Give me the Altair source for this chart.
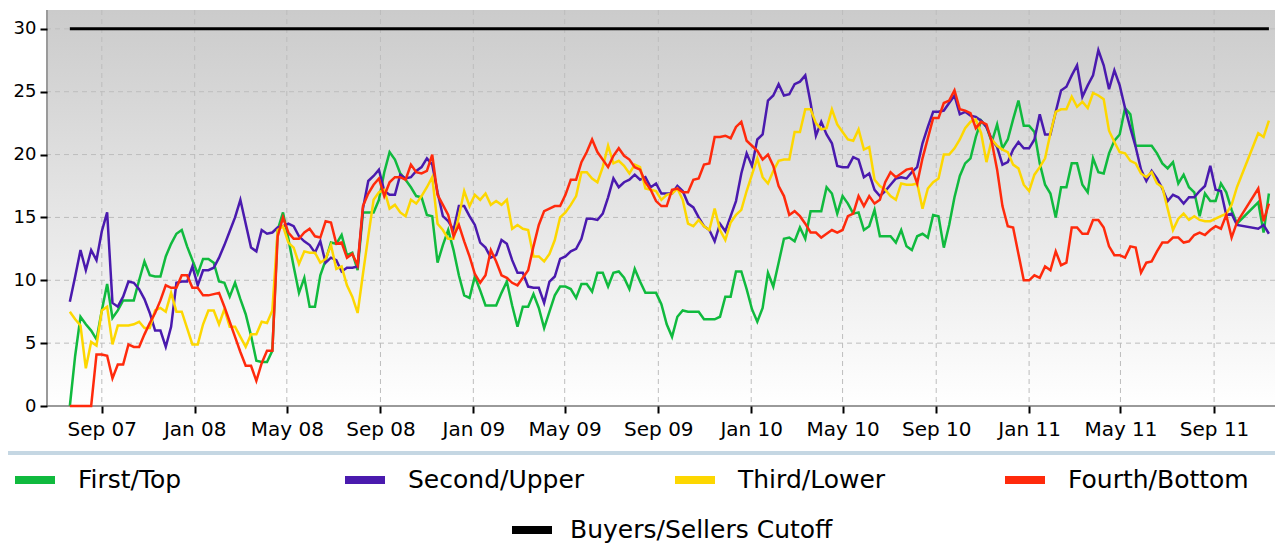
import altair as alt
import pandas as pd

# ---- data (weekly observations; three weeks missing near the end) ----
START = "2007-07-21"
WEEK_INDEX = list(range(0, 220)) + [223, 224, 225]

SERIES = ["First/Top", "Second/Upper", "Third/Lower", "Fourth/Bottom"]
COLORS = ["#10ba3e", "#4a1aae", "#fdd700", "#ff2a0c"]
CUTOFF_LABEL = "Buyers/Sellers Cutoff"
CUTOFF_VALUE = 30

FIRST = [
    0, 4.0, 7.1, 6.5, 6.0, 5.3, 7.6, 9.7, 7.0, 7.6,
    8.4, 8.4, 8.4, 10.0, 11.5, 10.4, 10.3, 10.3, 11.9, 12.9,
    13.7, 14.0, 12.7, 11.6, 10.5, 11.7, 11.7, 11.4, 9.9, 9.8,
    8.7, 9.8, 8.5, 7.3, 5.6, 3.6, 3.5, 3.5, 4.4, 14.0,
    15.4, 13.3, 11.1, 9.0, 10.2, 7.9, 7.9, 10.4, 11.6, 13.0,
    12.9, 13.6, 12.0, 12.2, 10.8, 15.4, 15.4, 15.4, 16.4, 18.6,
    20.2, 19.6, 18.5, 18.0, 17.4, 16.7, 16.6, 15.2, 15.1, 11.4,
    12.8, 14.0, 12.4, 10.4, 8.8, 8.6, 10.3, 9.2, 8.0, 8.0,
    8.0, 9.0, 9.9, 8.0, 6.3, 7.9, 7.9, 8.9, 7.8, 6.2,
    7.5, 8.8, 9.5, 9.5, 9.3, 8.6, 9.7, 9.7, 9.1, 10.6,
    10.6, 9.5, 10.6, 10.7, 10.2, 9.3, 10.9, 9.9, 9.0, 9.0,
    9.0, 8.1, 6.5, 5.5, 7.1, 7.6, 7.5, 7.5, 7.5, 6.9,
    6.9, 6.9, 7.1, 8.7, 8.7, 10.7, 10.7, 9.3, 7.7, 6.7,
    7.8, 10.6, 9.5, 11.4, 13.3, 13.4, 13.1, 14.2, 13.3, 15.5,
    15.5, 15.5, 17.4, 16.9, 15.3, 16.7, 16.1, 15.3, 15.4, 14.0,
    14.3, 15.6, 13.5, 13.5, 13.5, 13.0, 14.0, 12.7, 12.4, 13.5,
    13.7, 13.4, 15.2, 15.1, 12.6, 14.4, 16.6, 18.3, 19.3, 19.7,
    21.4, 22.7, 22.2, 21.0, 22.4, 20.5, 21.2, 22.8, 24.3, 22.3,
    22.3, 21.8, 19.3, 17.6, 16.9, 15.0, 17.4, 17.4, 19.3, 19.3,
    17.6, 17.0, 19.7, 18.6, 18.5, 20.1, 21.1, 21.6, 23.7, 23.2,
    20.7, 20.7, 20.7, 20.7, 20.1, 19.3, 18.9, 19.4, 17.7, 18.4,
    17.4, 17.0, 15.1, 16.9, 16.3, 16.3, 17.7, 17.0, 15.6, 14.5,
    16.2, 13.8, 16.9,
]

SECOND = [
    8.3, 10.3, 12.4, 10.8, 12.4, 11.6, 13.9, 15.4, 8.2, 7.9,
    8.7, 9.9, 9.8, 9.3, 8.5, 7.4, 6.0, 6.0, 4.7, 6.3,
    9.8, 9.9, 9.9, 11.1, 9.6, 10.8, 10.8, 11.0, 11.8, 12.8,
    13.9, 15.0, 16.4, 14.5, 12.6, 12.3, 14.0, 13.7, 13.8, 14.2,
    14.3, 14.5, 14.3, 13.5, 13.1, 12.8, 12.2, 13.1, 11.4, 11.8,
    11.6, 10.7, 11.0, 11.0, 11.1, 15.7, 17.9, 18.3, 18.8, 17.1,
    16.8, 16.8, 18.4, 18.1, 18.2, 18.7, 19.0, 19.7, 19.2, 17.0,
    15.1, 14.7, 14.0, 15.9, 15.9, 15.1, 14.4, 13.0, 12.6, 11.8,
    12.0, 13.2, 12.9, 11.6, 10.6, 10.6, 9.5, 9.4, 9.4, 8.2,
    9.9, 10.3, 11.7, 11.9, 12.3, 12.5, 13.3, 14.9, 14.9, 14.8,
    15.3, 16.6, 18.1, 17.4, 17.8, 18.0, 18.4, 18.0, 18.2, 17.4,
    17.7, 16.9, 16.9, 16.9, 17.5, 17.1, 16.1, 15.8, 15.0, 14.3,
    14.0, 13.1, 14.5, 13.9, 15.1, 16.3, 18.5, 20.1, 19.1, 21.2,
    21.6, 24.3, 24.7, 25.6, 24.7, 24.8, 25.6, 25.8, 26.3, 24.1,
    21.5, 22.6, 21.6, 20.9, 19.1, 19.0, 19.0, 19.8, 19.6, 18.2,
    18.5, 17.2, 16.7, 17.1, 17.6, 18.1, 18.2, 18.1, 18.6, 19.0,
    20.9, 22.2, 23.4, 23.4, 23.5, 24.1, 24.7, 23.2, 23.4, 23.1,
    23.0, 22.7, 22.2, 21.2, 20.6, 19.2, 19.4, 20.4, 21.0, 20.5,
    20.5, 21.2, 23.2, 21.6, 21.6, 23.4, 25.1, 25.4, 26.3, 27.1,
    24.6, 25.5, 26.3, 28.3, 27.1, 25.2, 26.7, 25.5, 23.7, 22.1,
    20.6, 18.8, 17.9, 18.7, 18.1, 17.3, 16.3, 16.8, 16.6, 16.1,
    16.6, 16.6, 17.1, 17.5, 19.1, 17.2, 17.1, 15.2, 15.3, 14.4,
    14.1, 14.4, 13.7,
]

THIRD = [
    7.5, 6.9, 6.4, 3.0, 5.1, 4.8, 7.6, 7.9, 4.9, 6.4,
    6.4, 6.4, 6.5, 6.7, 6.2, 6.2, 7.6, 7.8, 7.5, 9.0,
    7.5, 7.5, 6.2, 4.9, 4.9, 6.5, 7.6, 7.6, 6.5, 7.7,
    6.3, 6.3, 5.5, 4.7, 5.7, 5.7, 6.7, 6.6, 7.6, 14.0,
    14.3, 13.0, 12.6, 11.3, 12.3, 12.2, 12.2, 11.4, 11.7, 12.8,
    10.9, 11.1, 9.6, 8.7, 7.4, 10.5, 13.5, 16.4, 17.0, 17.2,
    15.7, 16.0, 15.4, 15.1, 16.4, 16.1, 16.7, 17.4, 18.2, 14.5,
    14.0, 13.3, 13.3, 15.1, 17.1, 15.9, 16.8, 16.4, 16.9, 16.0,
    16.3, 16.0, 16.4, 14.1, 14.4, 14.1, 14.0, 11.9, 11.9, 11.5,
    12.1, 13.2, 15.0, 15.4, 16.0, 16.7, 18.6, 18.6, 18.1, 17.8,
    19.0, 20.7, 19.3, 19.5, 19.1, 18.5, 19.2, 19.0, 17.3, 17.2,
    17.1, 16.4, 16.8, 16.9, 17.3, 16.4, 14.5, 14.3, 14.8, 14.3,
    14.0, 15.7, 14.0, 13.2, 14.6, 15.2, 15.6, 17.1, 18.4, 19.7,
    18.2, 17.7, 18.7, 19.5, 19.6, 19.6, 21.8, 21.8, 23.6, 23.6,
    22.5, 22.0, 22.1, 23.6, 22.4, 21.8, 21.2, 21.1, 22.0, 20.4,
    20.6, 18.0, 17.5, 17.2, 16.7, 16.4, 17.7, 17.6, 17.6, 17.7,
    15.7, 17.3, 17.8, 18.1, 20.0, 20.0, 20.5, 21.2, 22.1, 22.6,
    22.8, 21.7, 19.4, 21.2, 20.7, 20.4, 20.2, 19.2, 18.9, 17.6,
    17.1, 18.4, 19.0, 19.7, 21.7, 23.4, 23.6, 23.6, 24.6, 23.8,
    24.2, 23.7, 24.9, 24.7, 24.4, 21.9, 21.0, 20.2, 20.1, 19.5,
    19.3, 18.5, 18.2, 18.6, 17.7, 17.4, 15.7, 14.0, 14.9, 15.3,
    14.8, 15.1, 14.8, 14.7, 14.7, 14.9, 15.1, 15.3, 16.0, 17.4,
    21.7, 21.4, 22.7,
]

FOURTH = [
    0, 0, 0, 0, 0, 4.1, 4.1, 4.0, 2.2, 3.3,
    3.3, 4.9, 4.7, 4.7, 5.7, 6.6, 7.4, 8.4, 9.6, 9.4,
    9.4, 10.4, 10.4, 9.4, 9.4, 8.8, 8.8, 8.9, 9.0, 7.9,
    6.7, 5.5, 4.3, 3.2, 3.2, 2.0, 3.4, 4.4, 4.4, 13.5,
    15.0, 13.8, 13.3, 13.3, 13.8, 14.1, 13.5, 13.4, 14.7, 14.6,
    12.9, 13.0, 11.8, 12.1, 11.2, 15.9, 16.9, 17.6, 18.1, 16.7,
    17.8, 18.2, 18.2, 18.0, 19.2, 18.6, 18.5, 18.7, 20.0, 16.8,
    16.0, 15.2, 13.5, 14.4, 13.1, 11.9, 10.5, 9.8, 10.4, 12.4,
    11.5, 10.4, 10.2, 9.8, 9.6, 10.2, 10.8, 12.7, 14.4, 15.5,
    15.7, 15.9, 15.9, 16.8, 18.0, 18.0, 19.4, 20.2, 21.2, 20.2,
    19.6, 19.0, 19.9, 20.5, 19.9, 19.6, 19.0, 18.8, 17.8, 17.2,
    16.3, 15.9, 15.9, 17.2, 17.3, 17.0, 17.0, 18.0, 18.1, 19.2,
    19.3, 21.4, 21.4, 21.5, 21.3, 22.2, 22.6, 21.1, 20.7, 20.3,
    19.6, 20.0, 19.1, 17.5, 16.7, 15.2, 15.5, 15.1, 14.5, 13.8,
    13.8, 13.4, 13.7, 14.0, 13.8, 14.0, 15.1, 15.3, 16.7, 15.9,
    16.7, 16.1, 16.4, 17.8, 18.6, 18.2, 18.5, 18.8, 18.9, 17.7,
    19.7, 21.3, 22.9, 22.9, 24.1, 24.3, 25.1, 23.6, 23.5, 23.3,
    22.1, 22.6, 22.4, 21.0, 18.8, 15.9, 14.3, 14.2, 12.1, 10.0,
    10.0, 10.4, 10.2, 11.1, 10.8, 12.3, 11.2, 11.4, 14.2, 14.2,
    13.7, 13.7, 14.8, 14.8, 14.2, 12.7, 12.0, 12.0, 11.8, 12.7,
    12.6, 10.6, 11.4, 11.5, 12.3, 13.0, 13.0, 13.4, 13.4, 13.0,
    13.1, 13.6, 13.8, 13.6, 14.0, 14.3, 14.1, 15.2, 13.4, 14.6,
    17.3, 14.7, 16.1,
]

TICK_DATES = ["2007-09-01", "2008-01-01", "2008-05-01", "2008-09-01", "2009-01-01",
              "2009-05-01", "2009-09-01", "2010-01-01", "2010-05-01", "2010-09-01",
              "2011-01-01", "2011-05-01", "2011-09-01"]
Y_TICKS = [0, 5, 10, 15, 20, 25, 30]

# ---- build tables ----
dates = [(pd.Timestamp(START) + pd.Timedelta(days=7 * i)).strftime("%Y-%m-%d")
         for i in WEEK_INDEX]
rows = []
for name, vals in zip(SERIES, [FIRST, SECOND, THIRD, FOURTH]):
    assert len(vals) == len(dates), (name, len(vals))
    for d, v in zip(dates, vals):
        rows.append({"date": d, "series": name, "value": v})
df = pd.DataFrame(rows)
cut = pd.DataFrame({"date": [dates[0], dates[-1]],
                    "label": [CUTOFF_LABEL, CUTOFF_LABEL],
                    "value": [CUTOFF_VALUE, CUTOFF_VALUE]})
vgrid = pd.DataFrame({"date": TICK_DATES})
hgrid = pd.DataFrame({"value": Y_TICKS})

W, H = 1228, 396
FONT = "DejaVu Sans"
GRID = dict(color="#bdbdbd", strokeDash=[5, 4], strokeWidth=1)
AXIS_LINE = "#9a9a9a"

x_enc = alt.X(
    "date:T",
    scale=alt.Scale(type="utc",
                    domain=[alt.DateTime(year=2007, month=6, date=21, utc=True),
                            alt.DateTime(year=2011, month=11, date=20, utc=True)]),
    axis=alt.Axis(values=[alt.DateTime(year=int(d[:4]), month=int(d[5:7]), date=1, utc=True)
                          for d in TICK_DATES],
                  labelExpr="utcFormat(datum.value, '%b %y')", title=None, labelPadding=6,
                  labelFontSize=20, grid=False, domain=False, zindex=1),
)
y_enc = alt.Y(
    "value:Q",
    scale=alt.Scale(domain=[0, 31.5], nice=False),
    axis=alt.Axis(values=Y_TICKS, title=None, labelPadding=4, labelFontSize=18,
                  grid=False, domain=False, zindex=1),
)

bg = alt.Gradient(
    gradient="linear",
    stops=[alt.GradientStop(color="#cbcbcb", offset=0),
           alt.GradientStop(color="#ffffff", offset=1)],
    x1=0, x2=0, y1=0, y2=1,
)
background = alt.Chart(alt.Data(values=[{}])).mark_rect(fill=bg).encode(
    x=alt.value(0), x2=alt.value(W), y=alt.value(0), y2=alt.value(H))

vlines = alt.Chart(vgrid).mark_rule(**GRID).encode(x=x_enc)
hlines = alt.Chart(hgrid).mark_rule(**GRID).encode(y=y_enc)

yaxis_line = alt.Chart(alt.Data(values=[{}])).mark_rule(color=AXIS_LINE, strokeWidth=2).encode(
    x=alt.value(0), y=alt.value(0), y2=alt.value(H))
xaxis_line = alt.Chart(alt.Data(values=[{}])).mark_rule(color=AXIS_LINE, strokeWidth=2).encode(
    x=alt.value(0), x2=alt.value(W), y=alt.value(H))

LEGEND_COMMON = dict(
    title=None, orient="none", direction="horizontal", padding=0,
    symbolType="stroke", symbolSize=1600, symbolStrokeWidth=8,
    labelFont=FONT, labelFontSize=25, labelColor="black", labelLimit=400,
)

lines = alt.Chart(df).mark_line(strokeWidth=2.5).encode(
    x=x_enc,
    y=y_enc,
    color=alt.Color(
        "series:N",
        scale=alt.Scale(domain=SERIES, range=COLORS),
        legend=alt.Legend(legendX=-36, legendY=446, columns=4, gridAlign="all",
                          columnPadding=70, labelOffset=19, **LEGEND_COMMON),
    ),
    detail="series:N",
)

cutoff = alt.Chart(cut).mark_line(strokeWidth=3).encode(
    x=x_enc,
    y=y_enc,
    color=alt.Color(
        "label:N",
        scale=alt.Scale(domain=[CUTOFF_LABEL], range=["#000000"]),
        legend=alt.Legend(legendX=461, legendY=496, labelOffset=14, **LEGEND_COMMON),
    ),
)

separator = alt.Chart(alt.Data(values=[{}])).mark_rule(
    color="#c5d7e3", strokeWidth=4
).encode(x=alt.value(-39), x2=alt.value(W), y=alt.value(443))

chart = (
    alt.layer(background, vlines, hlines, yaxis_line, xaxis_line, lines, cutoff, separator)
    .resolve_scale(color="independent")
    .properties(width=W, height=H, autosize=alt.AutoSizeParams(type="none"),
                padding={"left": 39, "top": 2, "right": 0, "bottom": 139})
    .configure_view(strokeWidth=0)
    .configure_axis(
        tickColor="#000000", tickWidth=2, tickSize=7,
        labelFont=FONT, labelColor="#000000",
    )
)

chart.save("out.html", embed_options={"renderer": "svg", "actions": False})
